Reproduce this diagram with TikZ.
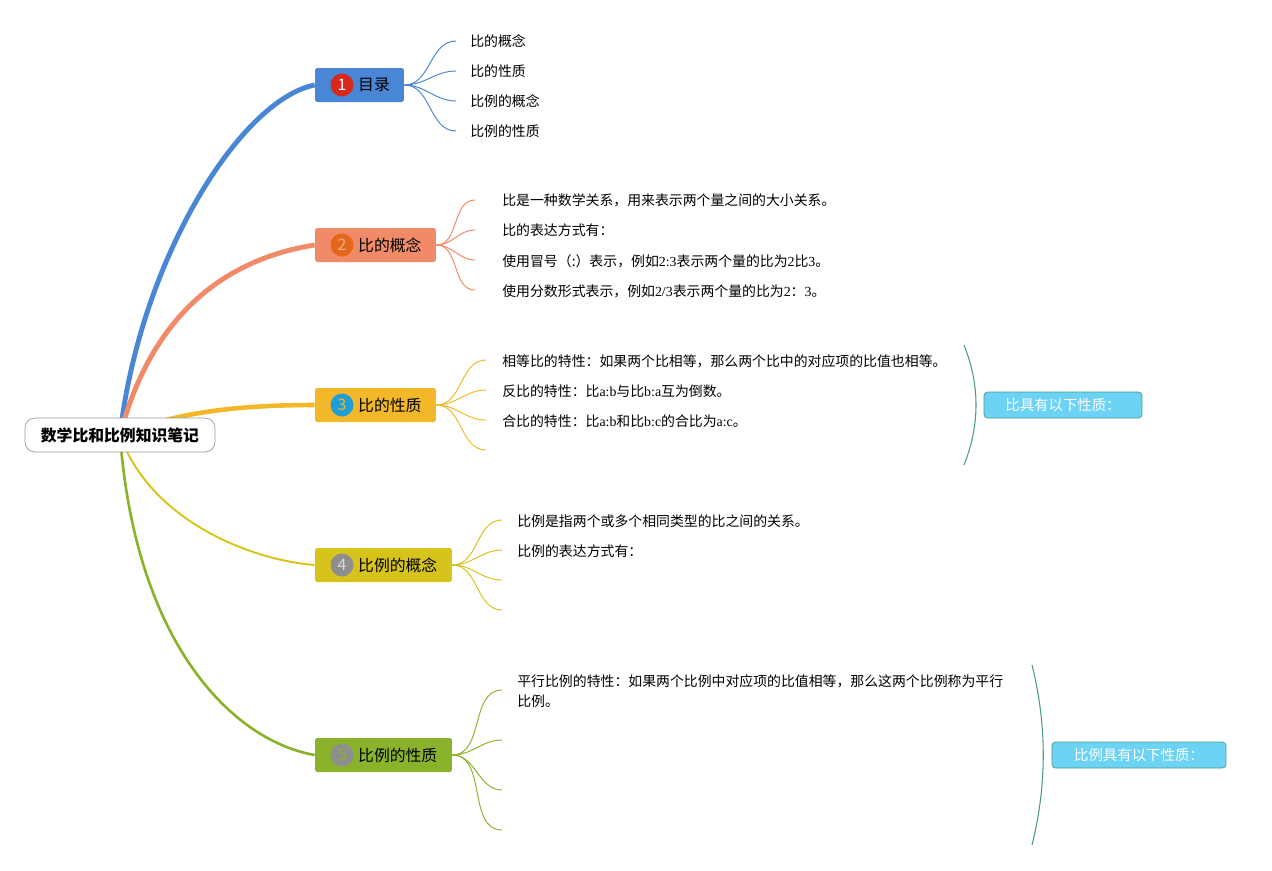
\documentclass[tikz,border=0pt]{standalone}
\usepackage{fontspec}
\setmainfont{Noto Sans CJK SC}
\newfontfamily\latfont{Liberation Serif}
\newcommand{\lat}[1]{{\latfont #1}}
\usetikzlibrary{positioning, backgrounds}

\definecolor{tBlue}{HTML}{4A86D6}
\definecolor{tSalmon}{HTML}{F08A68}
\definecolor{tAmber}{HTML}{F2B82A}
\definecolor{tOlive}{HTML}{D6C31B}
\definecolor{tGreen}{HTML}{8AB22A}
\definecolor{nRed}{HTML}{D8281C}
\definecolor{nOrange}{HTML}{E4661A}
\definecolor{nBlue}{HTML}{1F9ED8}
\definecolor{nGray}{HTML}{8E8E8E}
\definecolor{tagFill}{HTML}{6CD3F5}
\definecolor{tagBorder}{HTML}{4A9A8A}

\tikzset{
  root/.style={rectangle, rounded corners=0.2cm, draw=gray!80, fill=white, minimum width=3.8cm, minimum height=0.68cm, font=\fontsize{9}{11}\selectfont\bfseries},
  topic/.style={rectangle, rounded corners=1pt, minimum height=0.68cm, inner sep=0pt},
  num/.style={circle, minimum size=0.46cm, inner sep=0pt, font=\fontsize{9}{10}\selectfont},
  topictext/.style={inner sep=0pt, font=\fontsize{9}{11}\selectfont},
  leaf/.style={anchor=west, inner sep=0pt, font=\fontsize{7.9}{11.4}\selectfont, align=left},
  twig/.style={line width=0.55pt},
  tag/.style={rectangle, rounded corners=2pt, draw=tagBorder, fill=tagFill, text=white, minimum height=0.52cm, font=\fontsize{8.2}{10}\selectfont},
  bracket/.style={draw=tagBorder, line width=0.6pt},
}

\begin{document}
\begin{tikzpicture}[x=0.02cm, y=-0.02cm]
    \useasboundingbox (0,0) rectangle (1272,870);

    % 中心主题
    \node[root] (root) at (120,435) {数学比和比例知识笔记};

    % 一级主题
    \node[topic, fill=tBlue, minimum width=1.78cm] (b1) at (359.5,85) {};
    \node[num, fill=nRed, text=white] (n1) at (342,85) {1};
    \node[topictext, right=0.08cm of n1] (t1) {目录};

    \node[topic, fill=tSalmon, minimum width=2.42cm] (b2) at (375.5,245) {};
    \node[num, fill=nOrange, text=tSalmon!70!white] (n2) at (342,245) {2};
    \node[topictext, right=0.08cm of n2] (t2) {比的概念};

    \node[topic, fill=tAmber, minimum width=2.42cm] (b3) at (375.5,405) {};
    \node[num, fill=nBlue, text=tAmber] (n3) at (342,405) {3};
    \node[topictext, right=0.08cm of n3] (t3) {比的性质};

    \node[topic, fill=tOlive, minimum width=2.74cm] (b4) at (383.5,565) {};
    \node[num, fill=nGray, text=gray!30] (n4) at (342,565) {4};
    \node[topictext, right=0.08cm of n4] (t4) {比例的概念};

    \node[topic, fill=tGreen, minimum width=2.74cm] (b5) at (383.5,755) {};
    \node[num, fill=nGray, text=tGreen] (n5) at (342,755) {5};
    \node[topictext, right=0.08cm of n5] (t5) {比例的性质};

    % 主干连线
    \begin{scope}[on background layer]
        \draw[tBlue, line width=2.8pt] (root.center) .. controls (140,260) and (240,100) .. (b1.west);
        \draw[tSalmon, line width=2.8pt] (root.center) .. controls (150,320) and (220,260) .. (b2.west);
        \draw[tAmber, line width=2.6pt] (root.center) .. controls (180,410) and (250,405) .. (b3.west);
        \draw[tOlive, line width=1.1pt] (root.center) .. controls (150,520) and (250,560) .. (b4.west);
        \draw[tGreen, line width=1.5pt] (root.center) .. controls (135,640) and (230,740) .. (b5.west);
    \end{scope}

    % 目录
    \draw[twig, tBlue] (b1.east) to[out=0, in=180] (456,41) coordinate (e11);
    \draw[twig, tBlue] (b1.east) to[out=0, in=180] (456,71) coordinate (e12);
    \draw[twig, tBlue] (b1.east) to[out=0, in=180] (456,101) coordinate (e13);
    \draw[twig, tBlue] (b1.east) to[out=0, in=180] (456,131) coordinate (e14);
    \node[leaf] (l11) at (470,41) {比的概念};
    \node[leaf] (l12) at (470,71) {比的性质};
    \node[leaf] (l13) at (470,101) {比例的概念};
    \node[leaf] (l14) at (470,131) {比例的性质};

    % 比的概念
    \draw[twig, tSalmon] (b2.east) to[out=0, in=180] (475,200) coordinate (e21);
    \draw[twig, tSalmon] (b2.east) to[out=0, in=180] (475,230) coordinate (e22);
    \draw[twig, tSalmon] (b2.east) to[out=0, in=180] (475,260) coordinate (e23);
    \draw[twig, tSalmon] (b2.east) to[out=0, in=180] (475,290) coordinate (e24);
    \node[leaf] (l21) at (502,200) {比是一种数学关系，用来表示两个量之间的大小关系。};
    \node[leaf] (l22) at (502,230) {比的表达方式有：};
    \node[leaf] (l23) at (502,261) {使用冒号（:）表示，例如\lat{2:3}表示两个量的比为\lat{2}比\lat{3}。};
    \node[leaf] (l24) at (502,291) {使用分数形式表示，例如\lat{2/3}表示两个量的比为\lat{2}：\lat{3}。};

    % 比的性质
    \draw[twig, tAmber] (b3.east) to[out=0, in=180] (486,360) coordinate (e31);
    \draw[twig, tAmber] (b3.east) to[out=0, in=180] (486,390) coordinate (e32);
    \draw[twig, tAmber] (b3.east) to[out=0, in=180] (486,420) coordinate (e33);
    \draw[twig, tAmber] (b3.east) to[out=0, in=180] (486,450) coordinate (e34);
    \node[leaf] (l31) at (502,361) {相等比的特性：如果两个比相等，那么两个比中的对应项的比值也相等。};
    \node[leaf] (l32) at (502,391) {反比的特性：比\lat{a:b}与比\lat{b:a}互为倒数。};
    \node[leaf] (l33) at (502,421) {合比的特性：比\lat{a:b}和比\lat{b:c}的合比为\lat{a:c}。};
    \draw[bracket] (964,345) .. controls (980,385) and (980,425) .. (964,465);
    \node[tag, minimum width=3.16cm] (g3) at (1063,405) {比具有以下性质：};

    % 比例的概念
    \draw[twig, tOlive] (b4.east) to[out=0, in=180] (502,520) coordinate (e41);
    \draw[twig, tOlive] (b4.east) to[out=0, in=180] (502,550) coordinate (e42);
    \draw[twig, tOlive] (b4.east) to[out=0, in=180] (502,580) coordinate (e43);
    \draw[twig, tOlive] (b4.east) to[out=0, in=180] (502,610) coordinate (e44);
    \node[leaf] (l41) at (517,521) {比例是指两个或多个相同类型的比之间的关系。};
    \node[leaf] (l42) at (517,551) {比例的表达方式有：};

    % 比例的性质
    \draw[twig, tGreen] (b5.east) to[out=0, in=180] (502,690) coordinate (e51);
    \draw[twig, tGreen] (b5.east) to[out=0, in=180] (502,740) coordinate (e52);
    \draw[twig, tGreen] (b5.east) to[out=0, in=180] (502,790) coordinate (e53);
    \draw[twig, tGreen] (b5.east) to[out=0, in=180] (502,830) coordinate (e54);
    \node[leaf] (l51) at (517,691) {平行比例的特性：如果两个比例中对应项的比值相等，那么这两个比例称为平行\\比例。};
    \draw[bracket] (1032,665) .. controls (1047,725) and (1047,785) .. (1032,845);
    \node[tag, minimum width=3.48cm] (g5) at (1139,755) {比例具有以下性质：};

\end{tikzpicture}
\end{document}
